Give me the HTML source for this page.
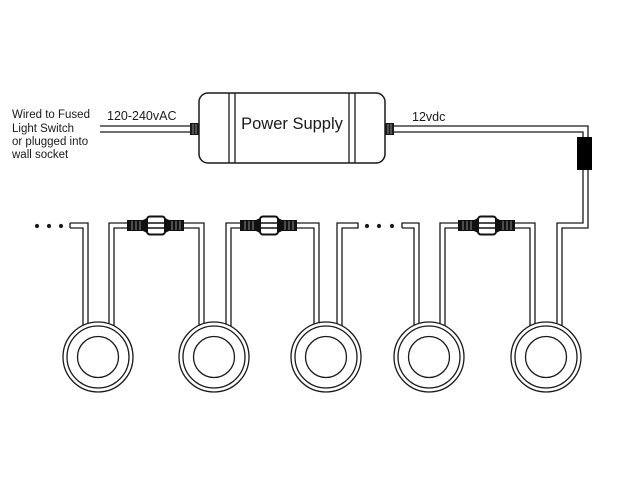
<!DOCTYPE html>
<html>
<head>
<meta charset="utf-8">
<style>
  html,body{margin:0;padding:0;background:#fff;}
  svg{display:block;}
  text{font-family:"Liberation Sans",Arial,sans-serif;fill:#1a1a1a;}
</style>
</head>
<body>
<svg width="640" height="480" viewBox="0 0 640 480" xmlns="http://www.w3.org/2000/svg">
  <rect width="640" height="480" fill="#fff"/>

  <!-- Left text -->
  <text x="12" y="118" font-size="11.5">Wired to Fused</text>
  <text x="12" y="132" font-size="11.5">Light Switch</text>
  <text x="12" y="145" font-size="11.5">or plugged into</text>
  <text x="12" y="158" font-size="11.5">wall socket</text>

  <text x="107" y="120" font-size="12.5">120-240vAC</text>
  <text x="412" y="121" font-size="12.5">12vdc</text>

  <g fill="none" stroke="#1a1a1a" stroke-width="1.3">
    <!-- input cable -->
    <path d="M100,126 H191"/>
    <path d="M100,132 H191"/>
    <!-- power supply box -->
    <rect x="199" y="93" width="186" height="70" rx="9" ry="9" stroke-width="1.5"/>
    <path d="M229,93 V163 M235,93 V163 M349,93 V163 M355,93 V163"/>
    <!-- output cable -->
    <path d="M394,126 H588 V137"/>
    <path d="M394,132 H583 V137"/>
    <path d="M583,170 V223 H557 V340"/>
    <path d="M588,170 V228 H562 V340"/>

    <!-- stub left of light 1 -->
    <path d="M70,223 H88 V340"/>
    <path d="M70,228 H83 V340"/>
    <path d="M70,223 V228"/>
    <!-- light1 right -> conn1 -> light2 left -->
    <path d="M109,340 V223 H128"/>
    <path d="M114,340 V228 H128"/>
    <path d="M184,223 H204 V340"/>
    <path d="M184,228 H199 V340"/>
    <!-- light2 right -> conn2 -> light3 left -->
    <path d="M226,340 V223 H241"/>
    <path d="M231,340 V228 H241"/>
    <path d="M297,223 H319 V340"/>
    <path d="M297,228 H314 V340"/>
    <!-- light3 right stub -->
    <path d="M337,340 V223 H358 V228 H342 V340"/>
    <!-- stub left of light 4 -->
    <path d="M402,228 V223 H419 V340"/>
    <path d="M402,228 H414 V340"/>
    <!-- light4 right -> conn3 -> light5 left -->
    <path d="M440,340 V223 H459"/>
    <path d="M445,340 V228 H459"/>
    <path d="M515,223 H535 V340"/>
    <path d="M515,228 H530 V340"/>
  </g>

  <text x="292" y="129" font-size="16.5" text-anchor="middle">Power Supply</text>

  <!-- plugs -->
  <g>
    <rect x="190" y="123" width="9" height="12" fill="#1a1a1a"/>
    <path d="M193,124 V134 M196,124 V134" stroke="#bbb" stroke-width="0.7"/>
    <rect x="385" y="123" width="9" height="12" fill="#1a1a1a"/>
    <path d="M388,124 V134 M391,124 V134" stroke="#bbb" stroke-width="0.7"/>
  </g>

  <!-- black inline block -->
  <rect x="577" y="137" width="15" height="33" fill="#000"/>

  <!-- dots -->
  <g fill="#1a1a1a">
    <circle cx="37" cy="226" r="2.1"/>
    <circle cx="49" cy="226" r="2.1"/>
    <circle cx="61" cy="226" r="2.1"/>
    <circle cx="367" cy="226" r="2.1"/>
    <circle cx="379" cy="226" r="2.1"/>
    <circle cx="392" cy="226" r="2.1"/>
  </g>

  <!-- connectors -->
  <defs>
    <g id="conn">
      <rect x="0" y="220" width="16" height="11" fill="#111"/>
      <path d="M5,221 V230 M9,221 V230 M13,221 V230" stroke="#bbb" stroke-width="0.7"/>
      <polygon points="16,220 20,218 20,233 16,231" fill="#111"/>
      <rect x="20" y="216.5" width="18" height="18" rx="3" ry="3" fill="#fff" stroke="#111" stroke-width="2"/>
      <path d="M20,223 H38 M20,228 H38" stroke="#111" stroke-width="1.5"/>
      <polygon points="38,218 42,220 42,231 38,233" fill="#111"/>
      <rect x="42" y="220" width="15" height="11" fill="#111"/>
      <path d="M45,221 V230 M49,221 V230 M53,221 V230" stroke="#bbb" stroke-width="0.7"/>
    </g>
  </defs>
  <use href="#conn" transform="translate(127,0)"/>
  <use href="#conn" transform="translate(240,0)"/>
  <use href="#conn" transform="translate(458,0)"/>

  <!-- lights -->
  <g fill="#fff" stroke="#1a1a1a" stroke-width="1.3">
    <g>
      <circle cx="98" cy="357" r="35"/><circle cx="98" cy="357" r="31"/><circle cx="98" cy="357" r="20.5"/>
    </g>
    <g>
      <circle cx="214" cy="357" r="35"/><circle cx="214" cy="357" r="31"/><circle cx="214" cy="357" r="20.5"/>
    </g>
    <g>
      <circle cx="326" cy="357" r="35"/><circle cx="326" cy="357" r="31"/><circle cx="326" cy="357" r="20.5"/>
    </g>
    <g>
      <circle cx="429" cy="357" r="35"/><circle cx="429" cy="357" r="31"/><circle cx="429" cy="357" r="20.5"/>
    </g>
    <g>
      <circle cx="546" cy="357" r="35"/><circle cx="546" cy="357" r="31"/><circle cx="546" cy="357" r="20.5"/>
    </g>
  </g>
</svg>
</body>
</html>
